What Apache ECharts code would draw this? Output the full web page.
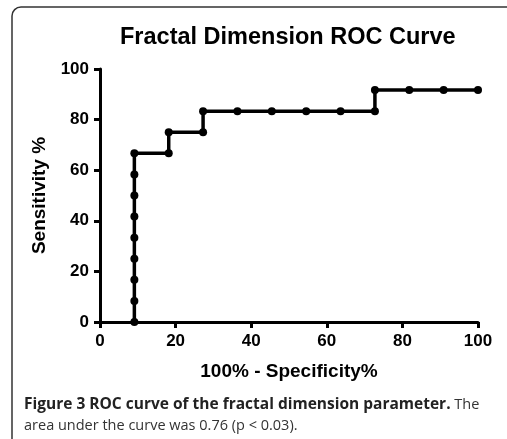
<!doctype html>
<html>
<head>
<meta charset="utf-8">
<script src="https://cdn.jsdelivr.net/npm/echarts@6/dist/echarts.min.js"></script>
<style>
  html, body { margin: 0; padding: 0; background: #fff; }
  #main { width: 507px; height: 439px; }
</style>
</head>
<body>
<div id="main"></div>
<script>
    // ROC 曲线数据 (100% - Specificity%, Sensitivity%)
    var specX = [9.09, 9.09, 9.09, 9.09, 9.09, 9.09, 9.09, 9.09, 9.09,
                 18.18, 18.18, 27.27, 27.27, 36.36, 45.45, 54.55, 63.64, 72.73,
                 72.73, 81.82, 90.91, 100];
    var sensY = [0, 8.33, 16.67, 25, 33.33, 41.67, 50, 58.33, 66.67,
                 66.67, 75, 75, 83.33, 83.33, 83.33, 83.33, 83.33, 83.33,
                 91.67, 91.67, 91.67, 91.67];
    var tickValues = [0, 20, 40, 60, 80, 100];

    var points = [];
    for (var i = 0; i < specX.length; i++) {
        points.push([specX[i], sensY[i]]);
    }

    var axisFont = { color: '#000', fontFamily: 'Liberation Sans, Arial', fontWeight: 'bold', fontSize: 17 };

    var myChart = echarts.init(document.getElementById('main'));
    myChart.setOption({
        animation: false,
        title: {
            text: 'Fractal Dimension ROC Curve',
            left: 115,
            top: 21,
            textStyle: { color: '#000', fontFamily: 'Liberation Sans, Arial', fontWeight: 'bold', fontSize: 23.5 }
        },
        grid: { left: 100, right: 29, top: 69, bottom: 117 },
        xAxis: {
            type: 'value',
            min: 0, max: 100, interval: 20,
            name: '100% - Specificity%',
            nameLocation: 'middle',
            nameGap: 40,
            nameTextStyle: { color: '#000', fontFamily: 'Liberation Sans, Arial', fontWeight: 'bold', fontSize: 19 },
            axisLine: { lineStyle: { color: '#000', width: 3 } },
            axisTick: { length: 6, lineStyle: { color: '#000', width: 3 } },
            axisLabel: Object.assign({ margin: 11, formatter: function (v) { return tickValues.indexOf(v) >= 0 ? v : ''; } }, axisFont),
            splitLine: { show: false }
        },
        yAxis: {
            type: 'value',
            min: 0, max: 100, interval: 20,
            name: 'Sensitivity %',
            nameLocation: 'middle',
            nameGap: 50,
            nameTextStyle: { color: '#000', fontFamily: 'Liberation Sans, Arial', fontWeight: 'bold', fontSize: 19 },
            axisLine: { show: true, lineStyle: { color: '#000', width: 3 } },
            axisTick: { show: true, length: 6, lineStyle: { color: '#000', width: 3 } },
            axisLabel: Object.assign({ margin: 11 }, axisFont),
            splitLine: { show: false }
        },
        series: [{
            type: 'line',
            data: points,
            symbol: 'circle',
            symbolSize: 8,
            showAllSymbol: true,
            lineStyle: { color: '#000', width: 3.5 },
            itemStyle: { color: '#000' }
        }],
        graphic: [
            {
                type: 'rect',
                shape: { x: 12, y: 7, width: 540, height: 450, r: 9 },
                style: { fill: 'none', stroke: '#333', lineWidth: 1.5 },
                silent: true
            },
            {
                type: 'text',
                left: 24,
                top: 394,
                style: {
                    text: '{b|Figure 3 ROC curve of the fractal dimension parameter.}{n| The}\n{n|area under the curve was 0.76 (p < 0.03).}',
                    fill: '#333',
                    font: '14.5px "Open Sans"',
                    lineHeight: 21,
                    rich: {
                        b: { fontWeight: 'bold', fontFamily: 'Open Sans', fontSize: 15.5, fill: '#222', lineHeight: 21 },
                        n: { fontFamily: 'Open Sans', fontSize: 14.5, fill: '#333', lineHeight: 21 }
                    }
                }
            }
        ]
    });
</script>
</body>
</html>
